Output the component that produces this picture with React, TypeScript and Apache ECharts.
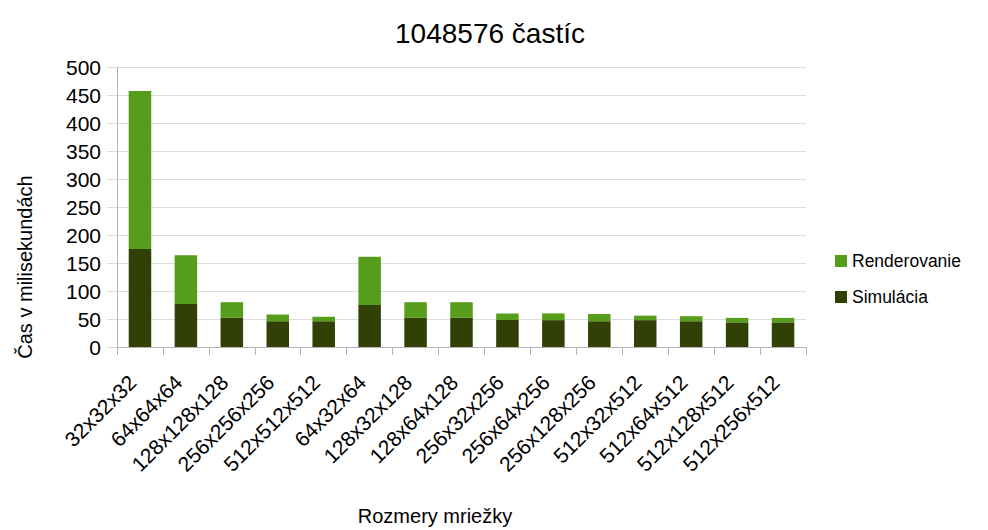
import React, { useEffect, useRef } from "react";
import * as echarts from "echarts";

const categories = [
  "32x32x32", "64x64x64", "128x128x128", "256x256x256", "512x512x512",
  "64x32x64", "128x32x128", "128x64x128", "256x32x256", "256x64x256",
  "256x128x256", "512x32x512", "512x64x512", "512x128x512", "512x256x512",
];
const simulacia = [175, 77, 52, 46, 46, 75, 52, 52, 48, 48, 46, 48, 46, 44, 44];
const renderovanie = [282, 87, 28, 12, 8, 86, 28, 28, 12, 12, 13, 8, 9, 8, 8];
const titleText = "1048576 častíc";
const yName = "Čas v milisekundách";
const xName = "Rozmery mriežky";

const FONT = "Liberation Sans";

export default function App() {
  const ref = useRef<HTMLDivElement>(null);
  useEffect(() => {
    document.body.style.margin = "0";
    const chart = echarts.init(ref.current!, null, { renderer: "svg" });
    chart.setOption({
      animation: false,
      textStyle: { fontFamily: FONT, color: "#000" },
      title: {
        text: titleText,
        left: 485,
        top: 14,
        textAlign: "center",
        textStyle: { fontFamily: FONT, fontSize: 28, fontWeight: "normal", color: "#000" },
      },
      legend: {
        orient: "vertical",
        left: 830,
        top: 247,
        itemWidth: 12,
        itemHeight: 12,
        itemGap: 18,
        icon: "rect",
        data: ["Renderovanie", "Simulácia"],
        textStyle: { fontFamily: FONT, fontSize: 17.5, color: "#000", padding: [0, 0, 0, 0] },
      },
      grid: { left: 117, right: 182, top: 67, bottom: 183, containLabel: false },
      xAxis: {
        type: "category",
        data: categories,
        boundaryGap: true,
        axisLine: { lineStyle: { color: "#b3b3b3" } },
        axisTick: { show: true, length: 8, lineStyle: { color: "#b3b3b3" } },
        axisLabel: {
          rotate: 45,
          interval: 0,
          margin: 39,
          verticalAlign: "bottom",
          fontFamily: FONT,
          fontSize: 21,
          color: "#000",
        },
      },
      yAxis: {
        type: "value",
        min: 0,
        max: 500,
        interval: 50,
        axisLine: { show: true, lineStyle: { color: "#b3b3b3" } },
        axisTick: { show: true, length: 10, lineStyle: { color: "#dddddd" } },
        splitLine: { show: true, lineStyle: { color: "#dddddd" } },
        axisLabel: { fontFamily: FONT, fontSize: 21, color: "#000", margin: 16 },
      },
      graphic: [
        {
          type: "text",
          x: 25,
          y: 267,
          rotation: Math.PI / 2,
          style: {
            text: yName,
            fontFamily: FONT,
            fontSize: 20,
            fill: "#000",
            textAlign: "center",
            textVerticalAlign: "middle",
          },
        },
        {
          type: "text",
          x: 435,
          y: 516,
          style: {
            text: xName,
            fontFamily: FONT,
            fontSize: 20,
            fill: "#000",
            textAlign: "center",
            textVerticalAlign: "middle",
          },
        },
      ],
      series: [
        {
          name: "Simulácia",
          type: "bar",
          stack: "total",
          barWidth: "49%",
          data: simulacia,
          itemStyle: { color: "#314004" },
        },
        {
          name: "Renderovanie",
          type: "bar",
          stack: "total",
          barWidth: "49%",
          data: renderovanie,
          itemStyle: { color: "#579d1c" },
        },
      ],
    });
    return () => chart.dispose();
  }, []);
  return <div ref={ref} style={{ width: 988, height: 530 }} />;
}
